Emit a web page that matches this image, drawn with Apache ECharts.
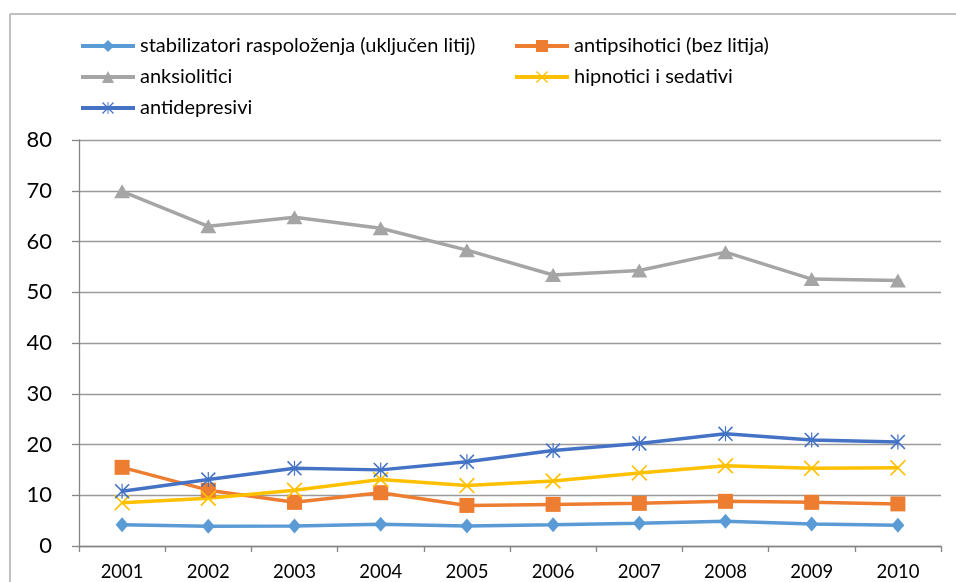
<!DOCTYPE html>
<html>
<head>
<meta charset="utf-8">
<script src="https://cdn.jsdelivr.net/npm/echarts@6/dist/echarts.min.js"></script>
<style>
  html, body { margin: 0; padding: 0; background: #fff; }
  #chart { width: 956px; height: 582px; }
</style>
</head>
<body>
<div id="chart"></div>
<script>
const years = ['2001','2002','2003','2004','2005','2006','2007','2008','2009','2010'];
const seriesNames = [
  'stabilizatori raspoloženja (uključen litij)',
  'antipsihotici (bez litija)',
  'anksiolitici',
  'hipnotici i sedativi',
  'antidepresivi'
];
const stabilizatori = [4.2, 3.9, 3.95, 4.3, 3.95, 4.2, 4.5, 4.9, 4.35, 4.1];
const antipsihotici = [15.5, 11.0, 8.6, 10.5, 8.0, 8.2, 8.4, 8.8, 8.6, 8.3];
const anksiolitici = [69.9, 63.0, 64.8, 62.6, 58.3, 53.4, 54.3, 57.9, 52.6, 52.3];
const hipnotici = [8.5, 9.4, 11.0, 13.1, 11.9, 12.8, 14.4, 15.8, 15.3, 15.4];
const antidepresivi = [10.8, 13.1, 15.3, 15.0, 16.6, 18.8, 20.2, 22.1, 20.9, 20.5];
const yTicks = [0, 10, 20, 30, 40, 50, 60, 70, 80];

const colors = ['#5B9BD5', '#ED7D31', '#A5A5A5', '#FFC000', '#4472C4'];
const xPath = 'path://M1.5,0 L10,8.5 L18.5,0 L20,1.5 L11.5,10 L20,18.5 L18.5,20 L10,11.5 L1.5,20 L0,18.5 L8.5,10 L0,1.5 Z';
const starPath = 'path://M1.5,0 L10,8.5 L18.5,0 L20,1.5 L11.5,10 L20,18.5 L18.5,20 L10,11.5 L1.5,20 L0,18.5 L8.5,10 L0,1.5 Z M9.2,0 L10.8,0 L10.8,20 L9.2,20 Z';

const dataArr = [stabilizatori, antipsihotici, anksiolitici, hipnotici, antidepresivi];
const symbols = ['diamond', 'rect', 'triangle', xPath, starPath];
const sizes = [[13, 15], 15, [16, 14], 16, 15];

const chart = echarts.init(document.getElementById('chart'), null, { renderer: 'canvas' });
const font = 'Lato, "Open Sans", sans-serif';

const series = seriesNames.map((n, i) => ({
  name: n,
  type: 'line',
  data: dataArr[i],
  symbol: symbols[i],
  symbolSize: sizes[i],
  showSymbol: true,
  lineStyle: { color: colors[i], width: 3.5 },
  itemStyle: { color: colors[i] },
  emphasis: { disabled: true },
  animation: false,
  z: 3
}));

const legendCommon = {
  orient: 'vertical',
  itemWidth: 54,
  itemHeight: 15,
  itemGap: 11,
  lineStyle: { width: 4 },
  textStyle: { fontFamily: font, fontSize: 20, lineHeight: 20, color: '#000' },
  selectedMode: false,
  padding: 0
};

chart.setOption({
  backgroundColor: '#fff',
  animation: false,
  color: colors,
  graphic: [
    { type: 'line', shape: { x1: 10, y1: 14, x2: 10, y2: 582 }, style: { stroke: '#ABABAB', lineWidth: 1.5 } },
    { type: 'line', shape: { x1: 10, y1: 14, x2: 956, y2: 14 }, style: { stroke: '#ABABAB', lineWidth: 1.5 } }
  ],
  legend: [
    Object.assign({}, legendCommon, { left: 79, top: 36, data: [seriesNames[0], seriesNames[2], seriesNames[4]] }),
    Object.assign({}, legendCommon, { left: 513, top: 36, data: [seriesNames[1], seriesNames[3]] })
  ],
  grid: { left: 79, right: 15, top: 140, bottom: 36, containLabel: false },
  xAxis: {
    type: 'category',
    data: years,
    boundaryGap: true,
    axisLine: { lineStyle: { color: '#868686', width: 1.3 } },
    axisTick: { show: true, length: 6, lineStyle: { color: '#868686', width: 1.3 } },
    axisLabel: { fontFamily: font, fontSize: 18.5, color: '#000', margin: 17 },
    splitLine: { show: false }
  },
  yAxis: {
    type: 'value',
    min: 0,
    max: 80,
    interval: 10,
    axisLine: { show: true, lineStyle: { color: '#868686', width: 1.3 } },
    axisTick: { show: true, length: 7, lineStyle: { color: '#868686', width: 1.3 } },
    axisLabel: {
      fontFamily: font, fontSize: 22, color: '#000', margin: 27,
      formatter: v => (yTicks.includes(v) ? String(v) : '')
    },
    splitLine: { show: true, lineStyle: { color: '#9A9A9A', width: 1.3 } }
  },
  series: series
});
</script>
</body>
</html>
